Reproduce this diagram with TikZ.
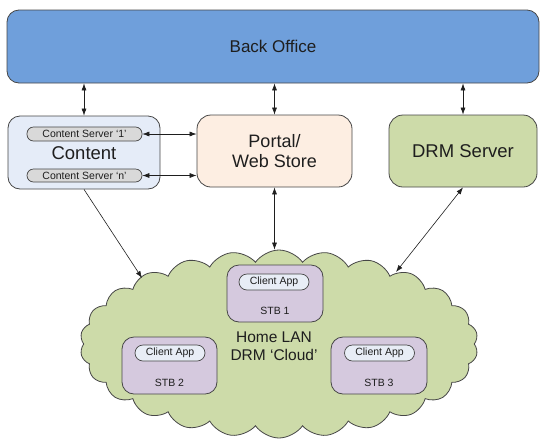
\documentclass[tikz,border=0pt]{standalone}
\usepackage{fontspec}
\setmainfont{Liberation Sans}
\usepackage{tikz}
\usetikzlibrary{arrows.meta,shapes.symbols}
\definecolor{officeblue}{RGB}{111,159,219}
\definecolor{contentblue}{RGB}{229,236,248}
\definecolor{portalpeach}{RGB}{253,238,226}
\definecolor{drmgreen}{RGB}{205,219,169}
\definecolor{stbpurple}{RGB}{213,201,222}
\definecolor{pillgrey}{RGB}{217,217,217}
\definecolor{applight}{RGB}{232,237,246}
\definecolor{edgegrey}{RGB}{70,70,70}
\definecolor{textdark}{RGB}{30,30,30}
\tikzset{
	box/.style={draw=edgegrey, line width=0.8pt, rounded corners=12pt, inner sep=0pt, text=textdark, align=center},
	pill/.style={draw=edgegrey, line width=0.7pt, rounded corners=6.5pt, inner sep=0pt, text=textdark, font=\fontsize{10.5}{12}\selectfont},
	lbl/.style={text=textdark, inner sep=0pt, align=center},
	link/.style={line width=0.6pt, draw=textdark}
}
\begin{document}
\begin{tikzpicture}[x=1pt, y=-1pt, >={Latex[length=7pt,width=5pt]}]
		\useasboundingbox (0,0) rectangle (540,440);
		%Back Office
		\node [box, fill=officeblue, minimum width=532pt, minimum height=73pt, font=\fontsize{17}{20}\selectfont] (back) at (273,46.5) {Back Office};
		%Content
		\node [box, fill=contentblue, minimum width=152pt, minimum height=73pt] (content) at (84,152.5) {};
		\node [lbl, font=\fontsize{18.5}{20}\selectfont] (contentlbl) at (84,153) {Content};
		\node [pill, fill=pillgrey, minimum width=115pt, minimum height=14pt] (cs1) at (84.5,134) {Content Server `1'};
		\node [pill, fill=pillgrey, minimum width=115pt, minimum height=13pt] (csn) at (84.5,175.5) {Content Server `n'};
		%Portal, DRM
		\node [box, fill=portalpeach, minimum width=155pt, minimum height=72pt, rounded corners=14pt, font=\fontsize{18}{20}\selectfont] (portal) at (274.5,151) {Portal/\\Web Store};
		\node [box, fill=drmgreen, minimum width=148pt, minimum height=72pt, rounded corners=14pt, font=\fontsize{18.5}{20}\selectfont] (drm) at (463,151) {DRM Server};
		%Cloud
		\node [cloud, draw=edgegrey, line width=0.8pt, fill=drmgreen, cloud puffs=26, cloud puff arc=110, cloud ignores aspect, minimum width=398pt, minimum height=188pt, inner sep=0pt] (lan) at (279,344) {};
		\node [lbl, font=\fontsize{15.5}{18}\selectfont] (lanlbl) at (274,346) {Home LAN\\DRM `Cloud'};
		%STBs
		\node [box, fill=stbpurple, minimum width=96pt, minimum height=57pt] (stb1) at (275,293.5) {};
		\node [pill, fill=applight, minimum width=70pt, minimum height=16pt, rounded corners=8pt] (app1) at (274,282) {Client App};
		\node [lbl, font=\fontsize{10.5}{12}\selectfont] (stb1lbl) at (275,311) {STB 1};
		\node [box, fill=stbpurple, minimum width=95pt, minimum height=57pt] (stb2) at (169.5,365.5) {};
		\node [pill, fill=applight, minimum width=70pt, minimum height=16pt, rounded corners=8pt] (app2) at (170,353) {Client App};
		\node [lbl, font=\fontsize{10.5}{12}\selectfont] (stb2lbl) at (169.5,383) {STB 2};
		\node [box, fill=stbpurple, minimum width=96pt, minimum height=57pt] (stb3) at (379,365.5) {};
		\node [pill, fill=applight, minimum width=70pt, minimum height=16pt, rounded corners=8pt] (app3) at (379.5,353) {Client App};
		\node [lbl, font=\fontsize{10.5}{12}\selectfont] (stb3lbl) at (379,383) {STB 3};
		%Links
		\coordinate (lanleft) at (142,278);
		\coordinate (lanright) at (396,272);
		\draw [link, <->] (back.south -| content.north) -- (content.north);
		\draw [link, <->] (back.south -| portal.north) -- (portal.north);
		\draw [link, <->] (back.south -| drm.north) -- (drm.north);
		\draw [link, <->] (cs1.east) -- (cs1.east -| portal.west);
		\draw [link, <->] (csn.east) -- (csn.east -| portal.west);
		\draw [link, ->] (content.south) -- (lanleft);
		\draw [link, <->] (portal.south) -- (lan.north -| portal.south);
		\draw [link, <->] (drm.south) -- (lanright);
	\end{tikzpicture}
\end{document}
